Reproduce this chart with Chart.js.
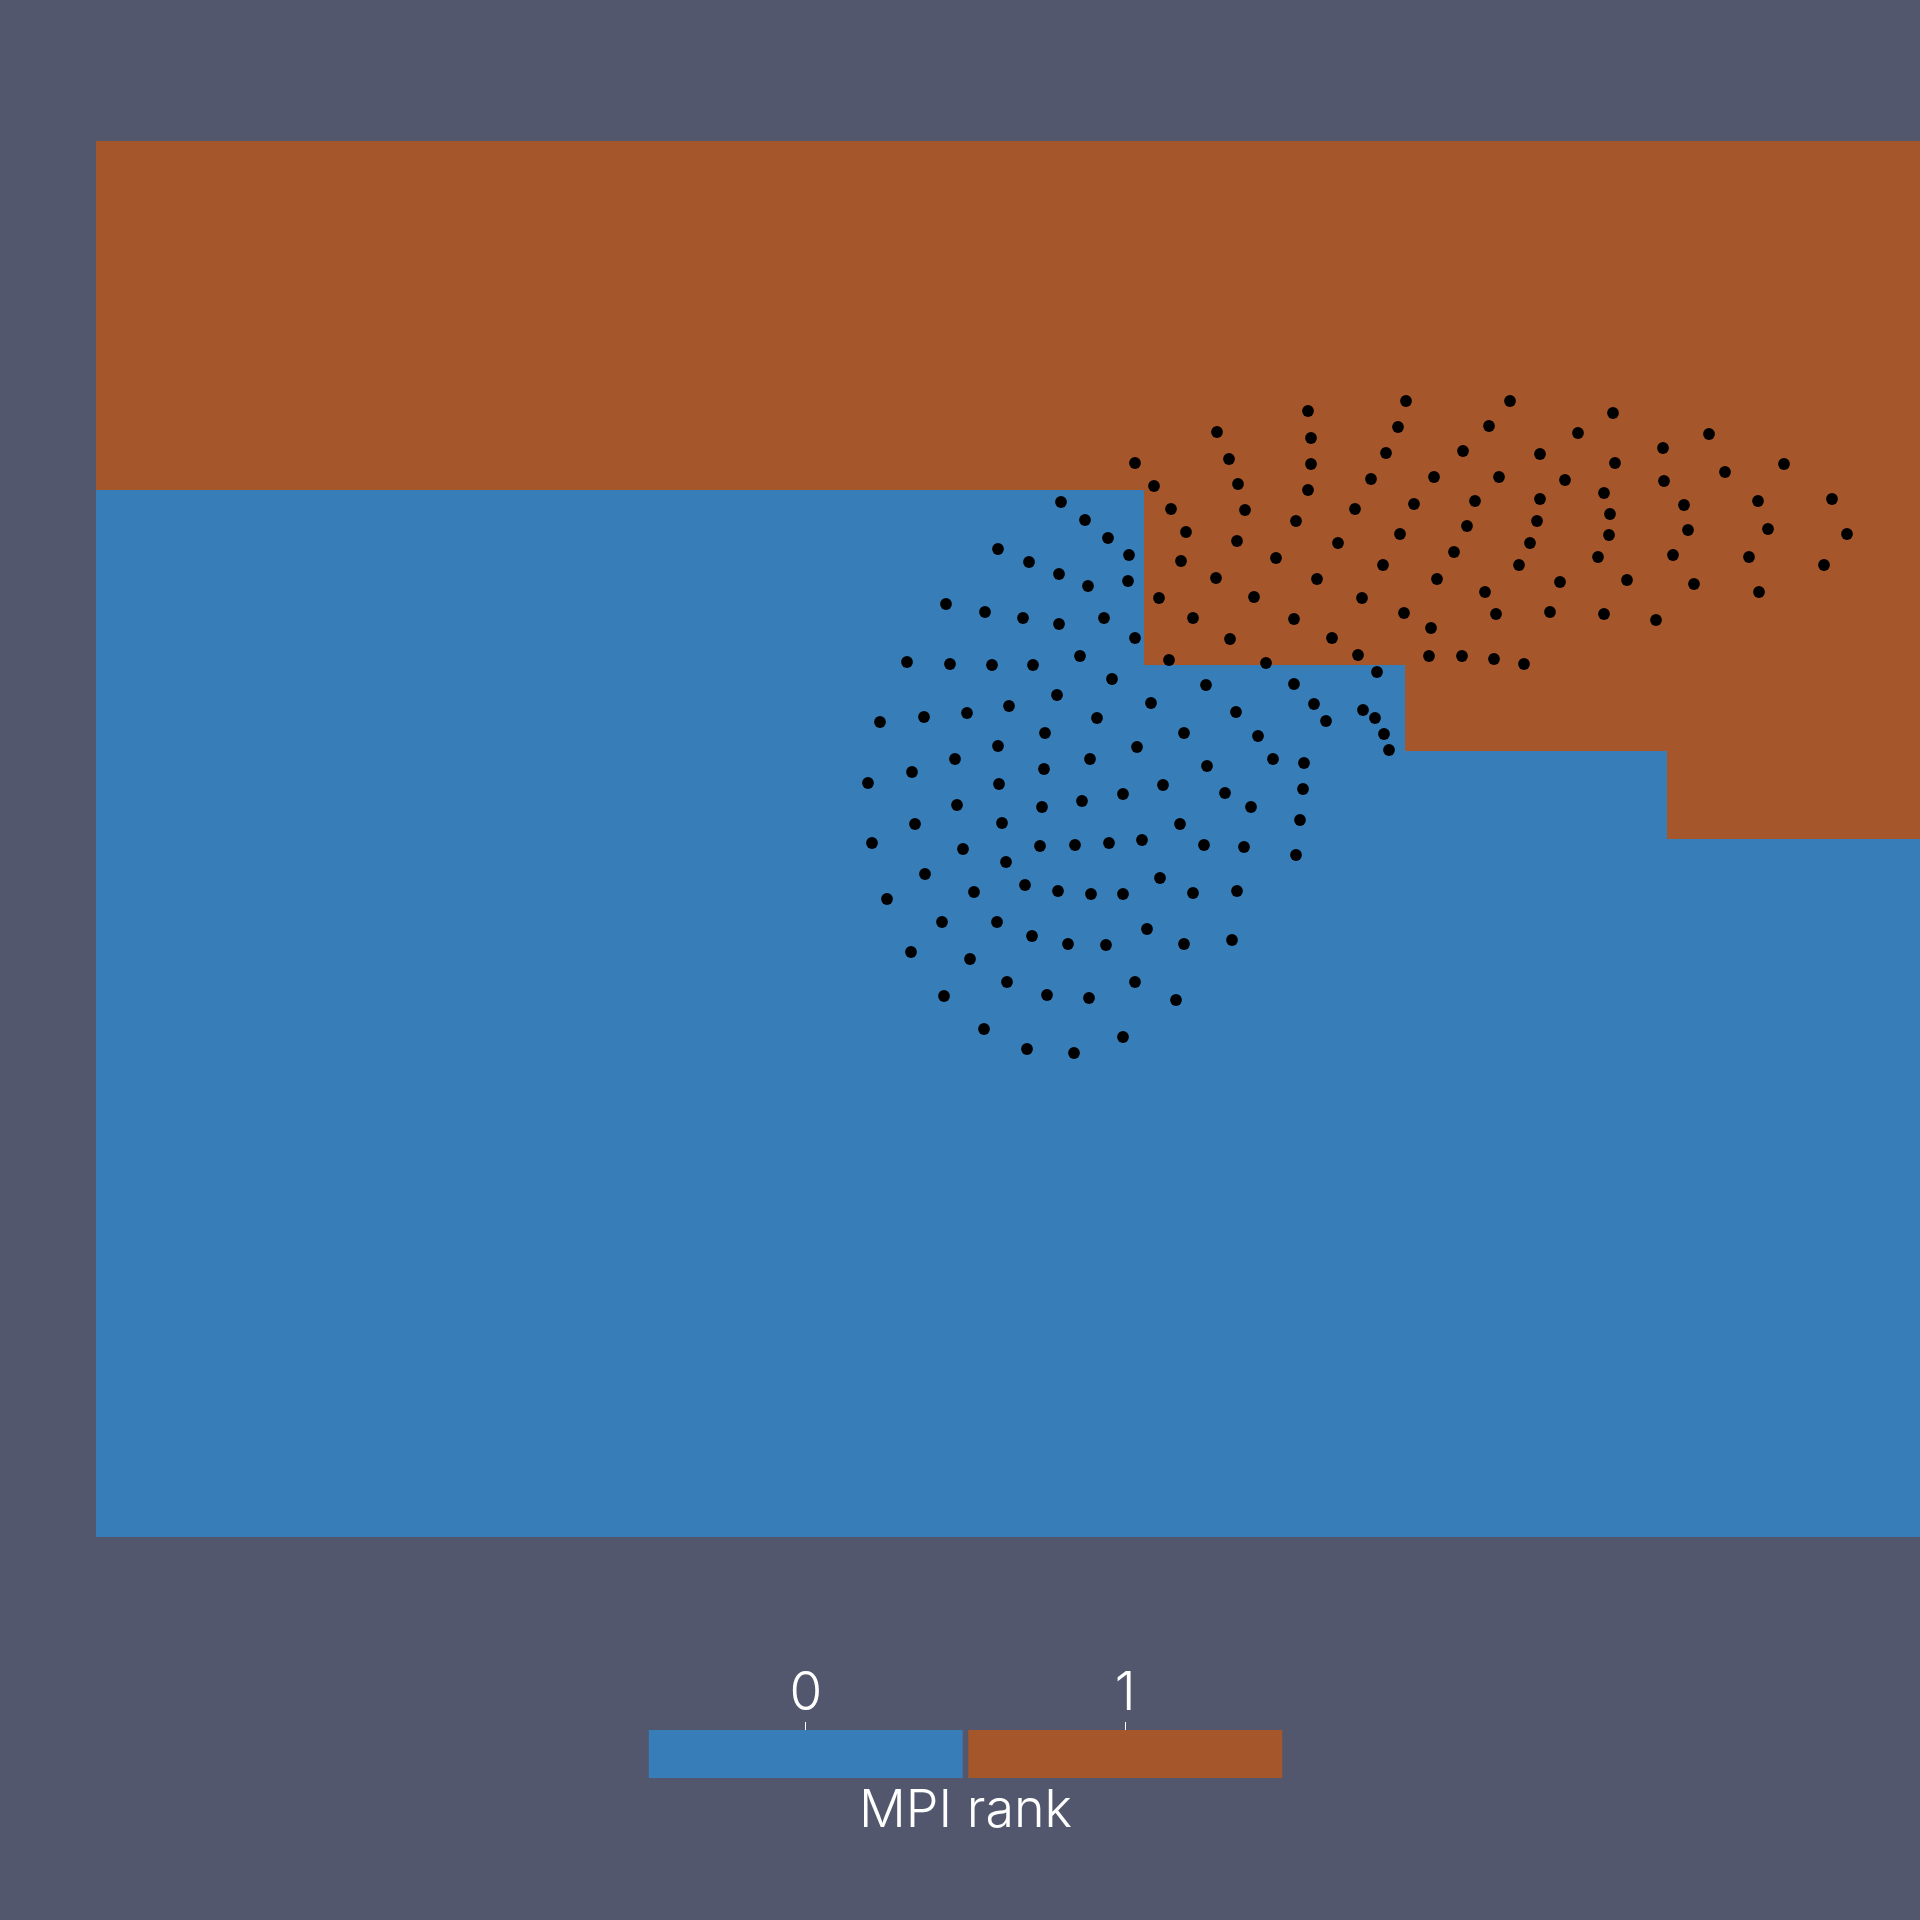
<!DOCTYPE html>
<html>
<head>
<meta charset="utf-8">
<script src="https://cdn.jsdelivr.net/npm/chart.js@4.4.1/dist/chart.umd.min.js"></script>
<style>
html,body{margin:0;padding:0;background:#52576e;}
#wrap{position:relative;width:1920px;height:1920px;background:#52576e;overflow:hidden;}
#main{position:absolute;left:0;top:0;}
#cb{position:absolute;left:646px;top:1667px;}
</style>
</head>
<body>
<div id="wrap">
<canvas id="main" width="1920" height="1920"></canvas>
<canvas id="cb" width="639" height="170"></canvas>
</div>
<script>
// ---- data ----
const rankLabels = ['0', '1'];
const rankBarValues = [1, 1];
const rankColors = ['#377db8', '#a5562a'];
const colorbarTitle = 'MPI rank';

// partition outlines (view coordinates)
const rank0X = [96, 1144, 1144, 1405, 1405, 1667, 1667, 1920, 1920, 96];
const rank0Y = [490, 490, 665, 665, 751, 751, 839, 839, 1537, 1537];
const rank1X = [96, 1920, 1920, 1667, 1667, 1405, 1405, 1144, 1144, 96];
const rank1Y = [141, 141, 839, 839, 751, 751, 665, 665, 490, 490];

// particle positions
const particleX = [
1135,1154,1171,1186,1181,1159,1193,1169,
1061,1085,1108,1129,
998,1029,1059,1088,1128,
946,985,1023,1059,1104,1135,
907,950,992,1033,1080,1112,
1057,1009,967,924,880,1151,1097,
1326,1045,1184,1258,998,1137,955,1090,1273,1304,912,1044,1207,868,999,1163,1123,1225,1303,957,1042,1082,1251,915,1002,1180,1300,872,963,1040,1075,1109,1142,1204,1244,1296,1006,925,1160,1025,1058,1091,1123,1193,1237,974,887,942,997,1032,1068,1106,1147,1184,1232,911,970,1007,1135,944,1047,1089,1176,984,1123,1027,1074,
1308,1406,1510,1217,1311,1398,1489,1229,1311,1386,1463,1540,1238,1308,1371,1434,1499,1245,1296,1355,1414,1475,1540,1237,1276,1338,1400,1467,1537,1530,1216,1317,1383,1454,1519,1254,1362,1437,1485,1294,1404,1496,1230,1332,1431,1266,1358,1429,1462,1494,1524,1377,1206,1294,1314,1363,1236,1375,1384,1389,
1613,1578,1709,1663,1615,1784,1565,1725,1664,1604,1684,1758,1832,1610,1609,1688,1768,1847,1598,1673,1749,1824,1560,1627,1694,1759,1550,1604,1656
];
const particleY = [
463,486,509,532,561,598,618,660,
502,520,538,555,
549,562,574,586,581,
604,612,618,624,618,638,
662,664,665,665,656,679,
695,706,713,717,722,703,718,
721,733,733,736,746,747,759,759,759,763,772,769,766,783,784,785,794,793,789,805,807,801,807,824,823,824,820,843,849,846,845,843,840,845,847,855,862,874,878,885,891,894,894,893,891,892,899,922,922,936,944,945,929,944,940,952,959,982,982,996,995,998,1000,1029,1037,1049,1053,
411,401,401,432,438,427,426,459,464,453,451,454,484,490,479,477,477,510,521,509,504,501,499,541,558,543,534,526,521,543,578,579,565,552,565,597,598,579,592,619,613,614,639,638,628,663,655,656,656,659,664,672,685,684,704,710,712,718,734,750,
413,433,434,448,463,464,480,472,481,493,505,501,499,514,535,530,529,534,557,555,557,565,582,580,584,592,612,614,620
];

// ---- main view ----
const toPts = (xs, ys) => xs.map((x, i) => ({x: x, y: ys[i]}));

new Chart(document.getElementById('main'), {
  type: 'scatter',
  data: {
    datasets: [
      {
        label: 'particles',
        data: toPts(particleX, particleY),
        showLine: false,
        pointRadius: 5.9,
        pointHoverRadius: 5.9,
        pointBackgroundColor: '#000000',
        pointBorderWidth: 0,
        pointBorderColor: 'rgba(0,0,0,0)',
        order: 0
      },
      {
        label: 'rank 0',
        data: toPts(rank0X, rank0Y),
        showLine: true,
        fill: 'shape',
        tension: 0,
        backgroundColor: rankColors[0],
        borderColor: 'rgba(0,0,0,0)',
        borderWidth: 0,
        pointRadius: 0,
        order: 1
      },
      {
        label: 'rank 1',
        data: toPts(rank1X, rank1Y),
        showLine: true,
        fill: 'shape',
        tension: 0,
        backgroundColor: rankColors[1],
        borderColor: 'rgba(0,0,0,0)',
        borderWidth: 0,
        pointRadius: 0,
        order: 2
      }
    ]
  },
  options: {
    responsive: false,
    animation: false,
    events: [],
    layout: {padding: 0, autoPadding: false},
    plugins: {legend: {display: false}, tooltip: {enabled: false}, title: {display: false}},
    scales: {
      x: {type: 'linear', min: 0, max: 1920, display: false},
      y: {type: 'linear', min: 0, max: 1920, reverse: true, display: false}
    }
  }
});

// ---- colour legend ----
const labelFont = {family: 'Inter, Lato, sans-serif', size: 53, weight: 300, lineHeight: 1};
new Chart(document.getElementById('cb'), {
  type: 'bar',
  data: {
    labels: rankLabels,
    datasets: [{
      data: rankBarValues,
      backgroundColor: rankColors,
      borderWidth: 0,
      barPercentage: 314 / 319.5,
      categoryPercentage: 1
    }]
  },
  options: {
    responsive: false,
    animation: false,
    events: [],
    layout: {padding: 0, autoPadding: false},
    plugins: {
      legend: {display: false},
      tooltip: {enabled: false},
      title: {
        display: true,
        text: colorbarTitle,
        position: 'bottom',
        color: '#ffffff',
        font: {family: 'Inter, Lato, sans-serif', size: 52, weight: 300, lineHeight: 1},
        padding: {top: 7, bottom: 0}
      }
    },
    scales: {
      x: {
        position: 'top',
        grid: {offset: false, drawOnChartArea: false, drawTicks: true, tickLength: 8, color: '#ffffff', lineWidth: 1},
        border: {display: false},
        ticks: {color: '#ffffff', font: labelFont, padding: 1, maxRotation: 0, autoSkip: false}
      },
      y: {display: false, min: 0, max: 1}
    }
  }
});
</script>
</body>
</html>
